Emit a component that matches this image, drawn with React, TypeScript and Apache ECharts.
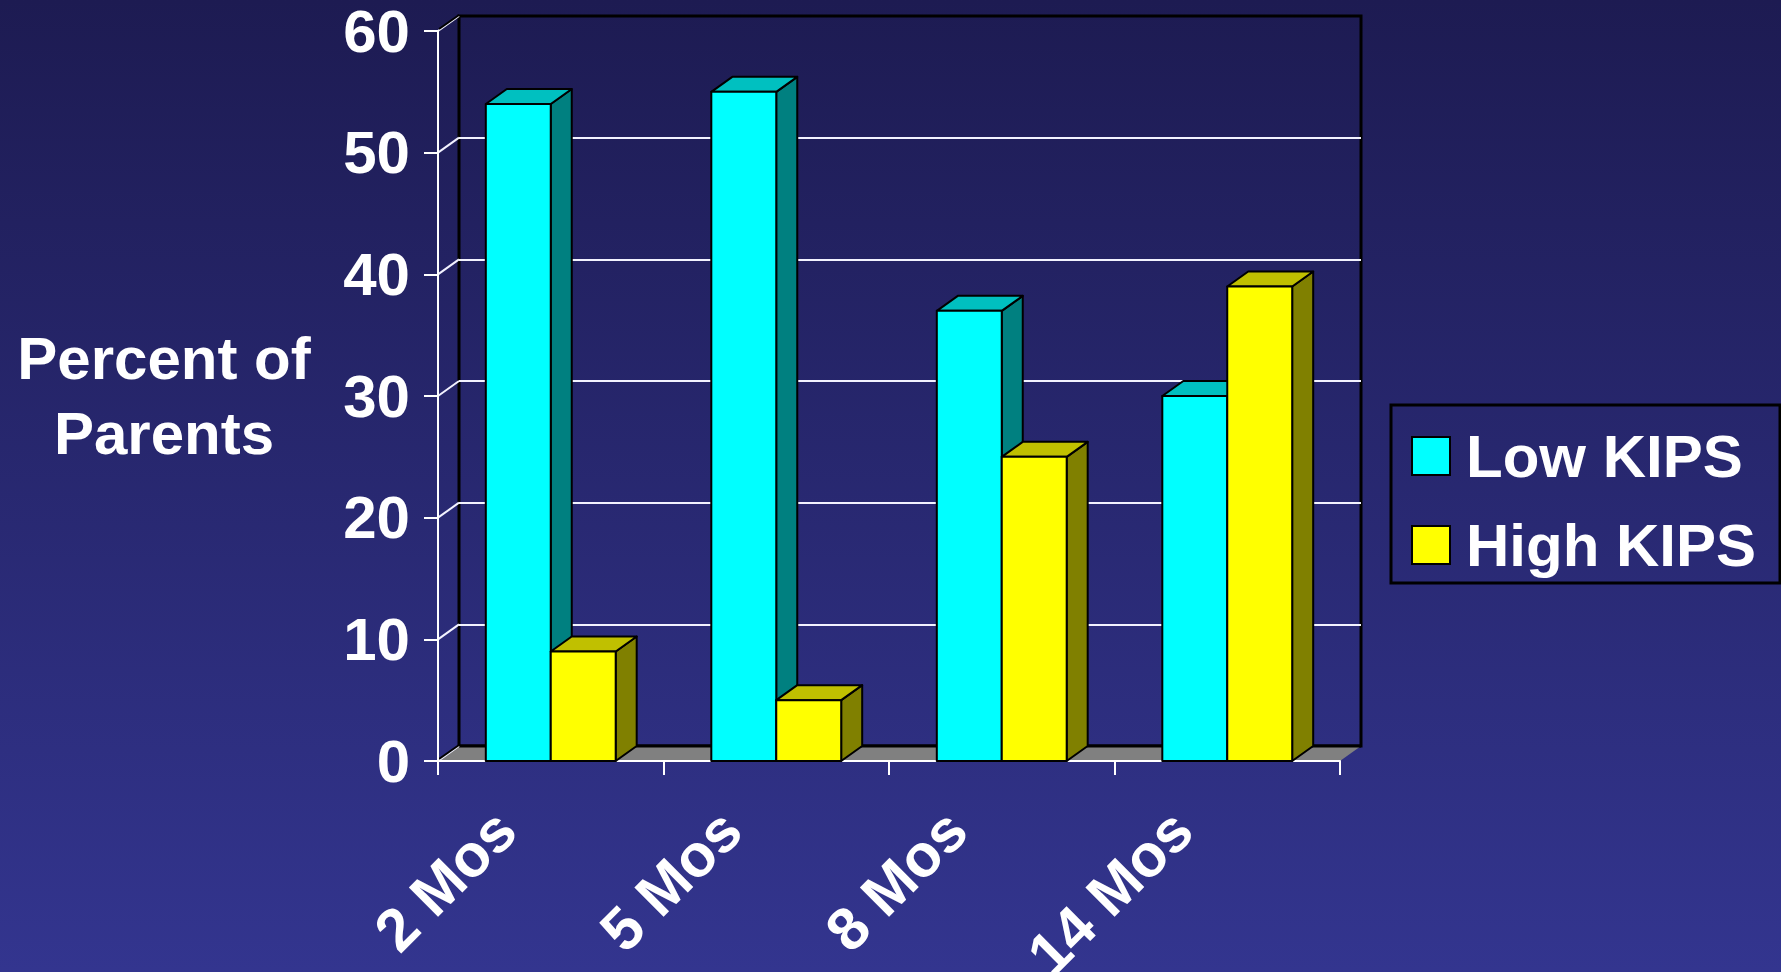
import React, { useEffect, useRef } from "react";
import * as echarts from "echarts";

const categories = ["2 Mos", "5 Mos", "8 Mos", "14 Mos"];
const lowKips = [54, 55, 37, 30];
const highKips = [9, 5, 25, 39];
const yTicks = [0, 10, 20, 30, 40, 50, 60];

const DX = 21;
const DY = -15;
const FONT = "'Liberation Sans', Arial, sans-serif";

function barRenderer(side: "left" | "right", front: string, top: string, sideCol: string) {
  return (params: any, api: any) => {
    const idx = api.value(0);
    const val = api.value(1);
    const pTop = api.coord([idx, val]);
    const pBase = api.coord([idx, 0]);
    const band = api.size([1, 0])[0];
    const w = band * 0.288;
    const x0 = side === "left" ? pTop[0] - w : pTop[0];
    const x1 = x0 + w;
    const yt = pTop[1];
    const yb = pBase[1];
    const stroke = { stroke: "#000", lineWidth: 2, lineJoin: "round" };
    return {
      type: "group",
      children: [
        {
          type: "polygon",
          shape: { points: [[x1, yt], [x1 + DX, yt + DY], [x1 + DX, yb + DY], [x1, yb]] },
          style: { fill: sideCol, ...stroke },
        },
        {
          type: "polygon",
          shape: { points: [[x0, yt], [x0 + DX, yt + DY], [x1 + DX, yt + DY], [x1, yt]] },
          style: { fill: top, ...stroke },
        },
        {
          type: "rect",
          shape: { x: x0, y: yt, width: w, height: yb - yt },
          style: { fill: front, ...stroke },
        },
      ],
    };
  };
}

export default function App() {
  const ref = useRef<HTMLDivElement>(null);
  useEffect(() => {
    if (!ref.current) return;
    const chart = echarts.init(ref.current, undefined, { renderer: "svg" });
    const option: any = {
      animation: false,
      backgroundColor: new echarts.graphic.LinearGradient(0, 0, 0, 1, [
        { offset: 0, color: "#1d1b52" },
        { offset: 1, color: "#33358f" },
      ]),
      textStyle: { fontFamily: FONT },
      legend: {
        orient: "vertical",
        left: 1391,
        top: 405,
        padding: [21, 24, 8, 20],
        itemWidth: 38,
        itemHeight: 38,
        itemGap: 29,
        borderColor: "#000",
        borderWidth: 3,
        textStyle: {
          color: "#fff",
          fontSize: 60,
          fontWeight: "bold",
          fontFamily: FONT,
          lineHeight: 60,
          padding: [0, 0, 0, 11],
        },
        data: [
          { name: "Low KIPS", icon: "rect", itemStyle: { color: "#00ffff", borderColor: "#000", borderWidth: 2 } },
          { name: "High KIPS", icon: "rect", itemStyle: { color: "#ffff00", borderColor: "#000", borderWidth: 2 } },
        ],
      },
      grid: [
        { left: 438, right: 441, top: 31, bottom: 211, outerBoundsMode: "none", containLabel: false },
        {
          left: 438 + DX,
          right: 441 - DX,
          top: 31 + DY,
          bottom: 211 - DY,
          show: true,
          borderColor: "#000",
          borderWidth: 3,
          backgroundColor: "transparent",
          outerBoundsMode: "none",
          containLabel: false,
          z: 0,
        },
      ],
      xAxis: [
        {
          type: "category",
          gridIndex: 0,
          data: categories,
          axisLine: { show: true, lineStyle: { color: "#fff", width: 2 } },
          axisTick: { show: true, length: 14, lineStyle: { color: "#fff", width: 2 } },
          axisLabel: {
            rotate: 45,
            margin: 14,
            padding: [0, 64, 0, 0],
            color: "#fff",
            fontSize: 60,
            fontWeight: "bold",
            fontFamily: FONT,
            hideOverlap: false,
          },
          z: 1,
        },
        { type: "value", gridIndex: 1, min: 0, max: 1, show: false },
      ],
      yAxis: [
        {
          type: "value",
          gridIndex: 0,
          min: 0,
          max: 60,
          interval: 10,
          axisLine: { show: true, lineStyle: { color: "#fff", width: 2 } },
          axisTick: { show: true, length: 14, lineStyle: { color: "#fff", width: 2 } },
          splitLine: { show: false },
          axisLabel: {
            margin: 28,
            color: "#fff",
            fontSize: 60,
            fontWeight: "bold",
            fontFamily: FONT,
          },
          name: "Percent of\nParents",
          nameLocation: "middle",
          nameRotate: 0,
          nameGap: 274,
          nameTextStyle: {
            color: "#fff",
            fontSize: 60,
            fontWeight: "bold",
            fontFamily: FONT,
            lineHeight: 75,
            align: "center",
            verticalAlign: "middle",
          },
          z: 1,
        },
        {
          type: "value",
          gridIndex: 1,
          min: 0,
          max: 60,
          interval: 10,
          axisLine: { show: false },
          axisTick: { show: false },
          axisLabel: { show: false },
          splitLine: {
            show: true,
            showMinLine: false,
            showMaxLine: false,
            lineStyle: { color: "#f2f2ff", width: 2 },
          },
        },
      ],
      series: [
        {
          type: "custom",
          name: "floor",
          xAxisIndex: 0,
          yAxisIndex: 0,
          z: 1,
          silent: true,
          data: [[0, 0]],
          renderItem: (params: any, api: any) => {
            const cs = params.coordSys;
            const yb = cs.y + cs.height;
            return {
              type: "group",
              children: [
                {
                  type: "polygon",
                  shape: {
                    points: [
                      [cs.x, yb],
                      [cs.x + cs.width, yb],
                      [cs.x + cs.width + DX, yb + DY],
                      [cs.x + DX, yb + DY],
                    ],
                  },
                  style: { fill: "#808080" },
                },
                {
                  type: "line",
                  shape: { x1: cs.x + DX, y1: yb + DY, x2: cs.x + cs.width + DX, y2: yb + DY },
                  style: { stroke: "#000", lineWidth: 3 },
                },
              ],
            };
          },
        },
        {
          type: "custom",
          name: "diag",
          xAxisIndex: 0,
          yAxisIndex: 0,
          z: 1,
          silent: true,
          data: yTicks.map((v) => [0, v]),
          renderItem: (params: any, api: any) => {
            const cs = params.coordSys;
            const v = api.value(1);
            const y = api.coord([0, v])[1];
            const x = cs.x;
            const edge = v === yTicks[0] || v === yTicks[yTicks.length - 1];
            const children: any[] = [
              {
                type: "line",
                shape: { x1: x, y1: y, x2: x + DX, y2: y + DY },
                style: { stroke: "#f2f2ff", lineWidth: 2 },
              },
            ];
            if (edge) {
              children.push({
                type: "line",
                shape: { x1: x + 1, y1: y - 2, x2: x + DX, y2: y + DY - 1 },
                style: { stroke: "#000", lineWidth: 2 },
              });
            }
            return { type: "group", children };
          },
        },
        {
          type: "custom",
          name: "Low KIPS",
          xAxisIndex: 0,
          yAxisIndex: 0,
          z: 2,
          itemStyle: { color: "#00ffff" },
          data: lowKips.map((v, i) => [i, v]),
          renderItem: barRenderer("left", "#00ffff", "#00c0c0", "#008080"),
        },
        {
          type: "custom",
          name: "High KIPS",
          xAxisIndex: 0,
          yAxisIndex: 0,
          z: 3,
          itemStyle: { color: "#ffff00" },
          data: highKips.map((v, i) => [i, v]),
          renderItem: barRenderer("right", "#ffff00", "#c0c000", "#808000"),
        },
      ],
    };
    chart.setOption(option);
    return () => chart.dispose();
  }, []);
  return (
    <div
      ref={ref}
      style={{ position: "absolute", left: 0, top: 0, width: 1781, height: 972 }}
    />
  );
}
